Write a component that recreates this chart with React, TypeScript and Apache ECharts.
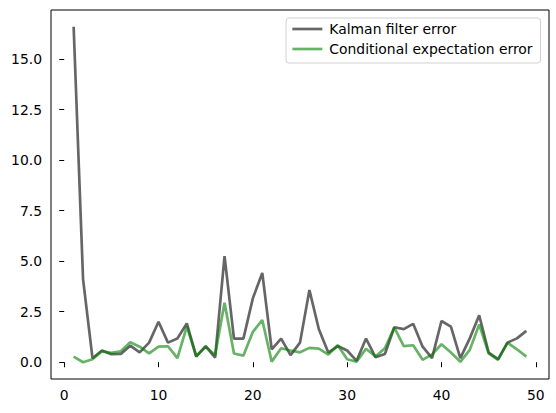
import React, { useEffect, useRef } from "react";
import * as echarts from "echarts";

const steps = [1, 2, 3, 4, 5, 6, 7, 8, 9, 10, 11, 12, 13, 14, 15, 16, 17, 18, 19, 20, 21, 22, 23, 24, 25, 26, 27, 28, 29, 30, 31, 32, 33, 34, 35, 36, 37, 38, 39, 40, 41, 42, 43, 44, 45, 46, 47, 48, 49];

const kalmanError = [16.6, 4.1, 0.2, 0.58, 0.4, 0.41, 0.82, 0.49, 0.97, 2.0, 0.97, 1.17, 1.92, 0.28, 0.8, 0.23, 5.25, 1.17, 1.17, 3.16, 4.42, 0.64, 1.17, 0.35, 0.97, 3.57, 1.63, 0.48, 0.8, 0.58, 0.07, 1.17, 0.25, 0.41, 1.73, 1.64, 1.9, 0.77, 0.2, 2.04, 1.76, 0.2, 1.18, 2.32, 0.48, 0.15, 0.97, 1.18, 1.55];

const condExpError = [0.28, 0.0, 0.15, 0.54, 0.46, 0.54, 0.99, 0.77, 0.44, 0.77, 0.79, 0.2, 1.76, 0.31, 0.77, 0.36, 2.94, 0.43, 0.33, 1.5, 2.09, 0.03, 0.69, 0.58, 0.49, 0.71, 0.67, 0.38, 0.84, 0.15, 0.02, 0.67, 0.28, 0.69, 1.71, 0.8, 0.84, 0.12, 0.39, 0.89, 0.48, 0.02, 0.61, 1.87, 0.44, 0.12, 0.97, 0.64, 0.28];

const xTicks = [0, 10, 20, 30, 40, 50];
const yTicks = [0, 2.5, 5, 7.5, 10, 12.5, 15];

const seriesNames = ["Kalman filter error", "Conditional expectation error"];

export default function App() {
  const ref = useRef<HTMLDivElement>(null);
  useEffect(() => {
    if (!ref.current) return;
    const chart = echarts.init(ref.current, undefined, { renderer: "svg" });
    const font = "DejaVu Sans";
    chart.setOption({
      animation: false,
      backgroundColor: "#ffffff",
      textStyle: { fontFamily: font },
      grid: {
        left: 51,
        right: 7,
        top: 10,
        bottom: 34,
        show: true,
        borderColor: "#000",
        borderWidth: 1,
        backgroundColor: "transparent",
      },
      legend: {
        orient: "vertical",
        left: 286,
        top: 18,
        padding: [4, 8, 7, 5],
        itemWidth: 30,
        itemHeight: 14,
        itemGap: 6,
        borderColor: "#d0d0d0",
        borderWidth: 1,
        borderRadius: 3,
        backgroundColor: "rgba(255,255,255,0.8)",
        itemStyle: { opacity: 0 },
        lineStyle: { width: 2.7 },
        textStyle: { fontFamily: font, fontSize: 13.9, color: "#000", padding: [0, 0, 0, 2] },
        data: seriesNames,
      },
      xAxis: {
        type: "value",
        min: -1.4,
        max: 51.4,
        splitLine: { show: false },
        axisLine: { show: false },
        axisTick: {
          show: true,
          length: 5,
          customValues: xTicks,
          lineStyle: { color: "#000", width: 1 },
        },
        axisLabel: {
          customValues: xTicks,
          margin: 9,
          fontFamily: font,
          fontSize: 13.9,
          color: "#000",
          formatter: (v: number) => String(v),
        },
      },
      yAxis: {
        type: "value",
        min: -0.83,
        max: 17.43,
        splitLine: { show: false },
        axisLine: { show: false },
        axisTick: {
          show: true,
          length: 5,
          customValues: yTicks,
          lineStyle: { color: "#000", width: 1 },
        },
        axisLabel: {
          customValues: yTicks,
          margin: 9,
          fontFamily: font,
          fontSize: 13.9,
          color: "#000",
          formatter: (v: number) => v.toFixed(1),
        },
      },
      series: [
        {
          name: seriesNames[0],
          type: "line",
          symbol: "none",
          data: steps.map((s, i) => [s, kalmanError[i]]),
          lineStyle: { color: "#000000", width: 2.7, opacity: 0.6 },
          itemStyle: { color: "#000000", opacity: 0.6 },
        },
        {
          name: seriesNames[1],
          type: "line",
          symbol: "none",
          data: steps.map((s, i) => [s, condExpError[i]]),
          lineStyle: { color: "#008000", width: 2.7, opacity: 0.6 },
          itemStyle: { color: "#008000", opacity: 0.6 },
        },
      ],
    });
    return () => chart.dispose();
  }, []);
  return (
    <div
      ref={ref}
      style={{ position: "fixed", left: 0, top: 0, width: 556, height: 413 }}
    />
  );
}
